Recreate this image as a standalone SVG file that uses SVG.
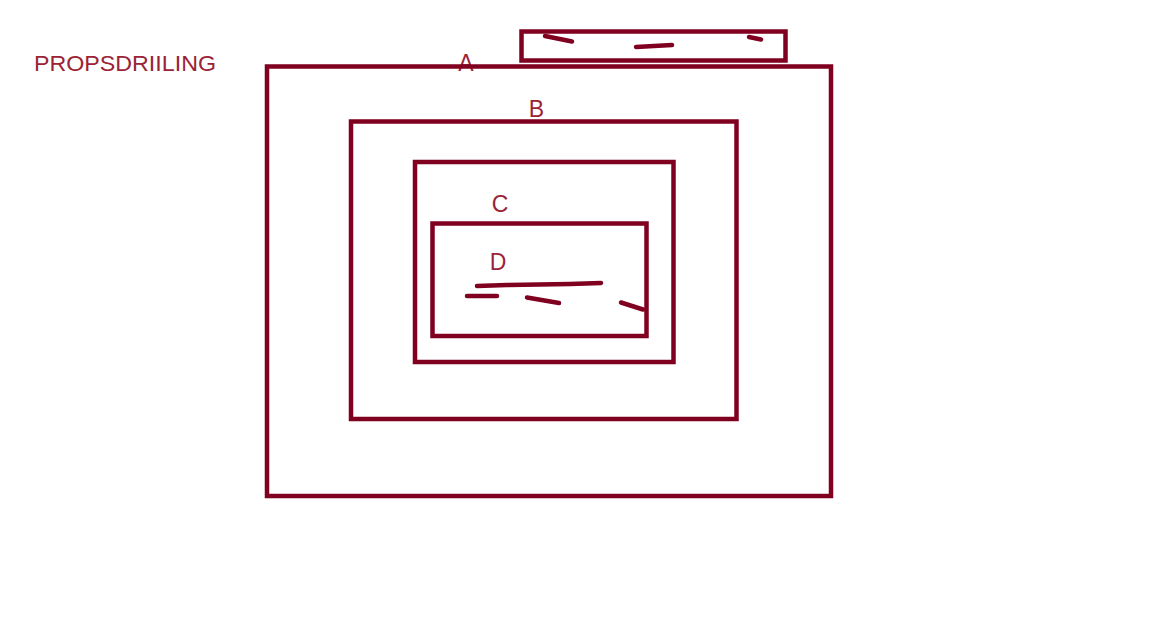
<svg xmlns="http://www.w3.org/2000/svg" width="1152" height="639" viewBox="0 0 1152 639">
<style>
.box{fill:none;stroke:#800020;stroke-width:4.5}
.mark{fill:none;stroke:#800020;stroke-width:4.5;stroke-linecap:round;stroke-linejoin:round}
.lbl{font-family:"Liberation Sans","Open Sans",sans-serif;font-size:23px;fill:#9b2335;text-anchor:middle}
</style>
<rect width="1152" height="639" fill="#ffffff"/>
<text x="34" y="71" font-family="Liberation Sans, sans-serif" font-size="22" fill="#9b2335" textLength="182" lengthAdjust="spacingAndGlyphs">PROPSDRIILING</text>
<g id="label-A"><text class="lbl" x="466" y="71">A</text></g>
<g id="top-box">
<rect class="box" x="521.5" y="31.5" width="264" height="29"/>
<line class="mark" x1="545" y1="36" x2="572" y2="41.5"/>
<line class="mark" x1="636" y1="47" x2="672" y2="45"/>
<line class="mark" x1="749" y1="37" x2="761" y2="39.5"/>
</g>
<g id="A"><rect class="box" x="267" y="66.5" width="564" height="429.5"/></g>
<g id="B">
<rect class="box" x="351" y="121.5" width="385.5" height="297.5"/>
<text class="lbl" x="536.5" y="117">B</text>
</g>
<g id="C">
<rect class="box" x="415" y="162" width="258.5" height="200"/>
<text class="lbl" x="500" y="212">C</text>
</g>
<g id="D">
<rect class="box" x="432.5" y="223.5" width="214" height="112.5"/>
<text class="lbl" x="498" y="270">D</text>
<polyline class="mark" points="477,286 507,285 570,284 601,283"/>
<line class="mark" x1="467" y1="296" x2="497" y2="296"/>
<line class="mark" x1="527" y1="297.5" x2="559" y2="303"/>
<line class="mark" x1="621" y1="302.5" x2="643" y2="309.5"/>
</g>
<g id="connectors"></g>
</svg>
